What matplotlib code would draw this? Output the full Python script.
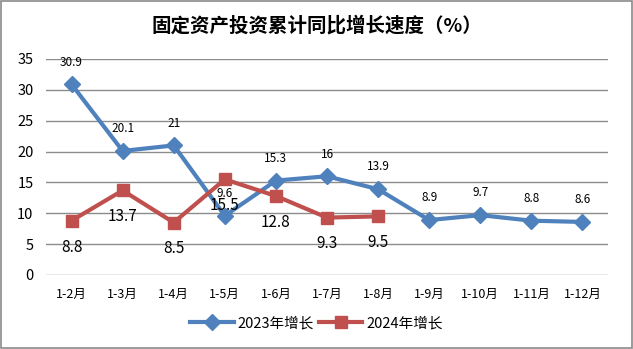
import matplotlib
matplotlib.use("Agg")
import matplotlib.pyplot as plt
from matplotlib.patches import Rectangle

plt.rcParams['font.family'] = ['Noto Sans CJK SC', 'DejaVu Sans']

# 固定资产投资累计同比增长速度
months = ['1-2月', '1-3月', '1-4月', '1-5月', '1-6月', '1-7月', '1-8月',
          '1-9月', '1-10月', '1-11月', '1-12月']
growth_2023 = [30.9, 20.1, 21, 9.6, 15.3, 16, 13.9, 8.9, 9.7, 8.8, 8.6]
growth_2024 = [8.8, 13.7, 8.5, 15.5, 12.8, 9.3, 9.5]

blue = '#4F81BD'
red = '#C0504D'
grid_gray = '#8C8C8C'

fig = plt.figure(figsize=(6.33, 3.49), dpi=100)
fig.patches.append(Rectangle((0.001, 0.003), 0.997, 0.993, transform=fig.transFigure,
                             fill=False, edgecolor='#8A8A8A', linewidth=1.2))

ax = fig.add_axes([46 / 633, 1 - 275 / 349, 562 / 633, 216 / 349])
x23 = list(range(len(growth_2023)))
x24 = list(range(len(growth_2024)))

ax.plot(x23, growth_2023, color=blue, linewidth=3, marker='D', markersize=8,
        label='2023年增长', zorder=3)
ax.plot(x24, growth_2024, color=red, linewidth=3, marker='s', markersize=9,
        label='2024年增长', zorder=3)

for x, v in zip(x23, growth_2023):
    ax.annotate(f'{v:g}', (x, v), xytext=(0, 16), textcoords='offset points',
                ha='center', va='center', fontsize=8.5, color='black', zorder=5)
for x, v in zip(x24, growth_2024):
    ax.annotate(f'{v:g}', (x, v), xytext=(0, -19), textcoords='offset points',
                ha='center', va='center', fontsize=11, color='black', zorder=5)

ax.set_xlim(-0.5, len(months) - 0.5)
ax.set_ylim(0, 35)
ax.set_yticks(range(0, 36, 5))
ax.set_xticks(x23)
ax.set_xticklabels(months, fontsize=9)
ax.tick_params(axis='y', length=0, pad=9, labelsize=10.5)
ax.tick_params(axis='x', length=0, pad=9)
ax.grid(axis='y', color=grid_gray, linewidth=1)
ax.set_axisbelow(True)
for s in ax.spines.values():
    s.set_visible(False)

fig.text(0.5, 1 - 26 / 349, '固定资产投资累计同比增长速度（%）', ha='center', va='center',
         fontsize=14, fontweight='bold')

fig.legend(loc='center', bbox_to_anchor=(0.5, 1 - 323 / 349), ncol=2, frameon=False,
           fontsize=10.5, handlelength=3, columnspacing=0.3, handletextpad=0.3)

fig.savefig('out.png', dpi=100)
